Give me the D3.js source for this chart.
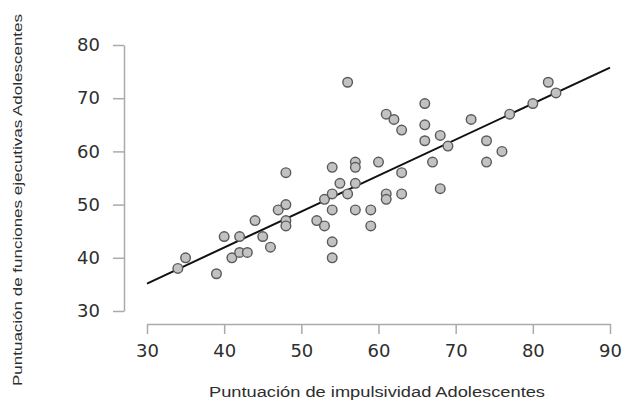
<!DOCTYPE html>
<html>
<head>
<meta charset="utf-8">
<script src="https://cdn.jsdelivr.net/npm/d3@7"></script>
<style>
body { margin: 0; background: #fff; }
svg { display: block; }
.tick text { fill: #2e2e2e; }
</style>
</head>
<body>
<div id="chart"></div>
<script>
// impulsividad (x) vs funciones ejecutivas (y)
var impulsividad = [34, 35, 39, 40, 41, 42, 42, 43, 44, 45, 46, 47, 48, 48, 48, 48,
	52, 53, 53, 54, 54, 54, 54, 54, 55, 56, 56, 57, 57, 57, 57, 59, 59, 60,
	61, 61, 61, 62, 63, 63, 63, 66, 66, 66, 67, 68, 68, 69, 72, 74, 74, 76,
	77, 80, 82, 83];
var funciones = [38, 40, 37, 44, 40, 44, 41, 41, 47, 44, 42, 49, 50, 56, 47, 46,
	47, 51, 46, 57, 52, 49, 43, 40, 54, 73, 52, 58, 57, 54, 49, 49, 46, 58,
	67, 52, 51, 66, 64, 56, 52, 69, 65, 62, 58, 63, 53, 61, 66, 62, 58, 60,
	67, 69, 73, 71];
var xTicks = [30, 40, 50, 60, 70, 80, 90];
var yTicks = [30, 40, 50, 60, 70, 80];

var width = 625, height = 403;

var svg = d3.select("#chart").append("svg")
		.attr("width", width)
		.attr("height", height);

var x = d3.scaleLinear().domain([30, 90]).range([147, 610]);
var y = d3.scaleLinear().domain([30, 80]).range([311, 45]);

var data = impulsividad.map(function(d, i) { return {x: d, y: funciones[i]}; });

// axes
var xAxis = svg.append("g")
		.attr("transform", "translate(0,324)")
		.call(d3.axisBottom(x).tickValues(xTicks).tickSize(10).tickSizeOuter(0).tickPadding(10));
var yAxis = svg.append("g")
		.attr("transform", "translate(124,0)")
		.call(d3.axisLeft(y).tickValues(yTicks).tickSize(11).tickSizeOuter(0).tickPadding(13));

[xAxis, yAxis].forEach(function(a) {
	a.select(".domain").attr("stroke", "#aaa").attr("stroke-width", 1.5);
	a.selectAll(".tick line").attr("stroke", "#aaa").attr("stroke-width", 1.5);
	a.selectAll(".tick text")
			.style("font-family", "DejaVu Sans, sans-serif")
			.style("font-size", "18px");
});
xAxis.selectAll(".tick text").attr("dy", "0.71em");

// least squares fit line
var mx = d3.mean(impulsividad), my = d3.mean(funciones);
var sxy = d3.sum(data, function(d) { return (d.x - mx) * (d.y - my); });
var sxx = d3.sum(data, function(d) { return (d.x - mx) * (d.x - mx); });
var slope = sxy / sxx, intercept = my - slope * mx;
var fit = x.domain().map(function(v) { return {x: v, y: intercept + slope * v}; });

svg.append("path")
		.datum(fit)
		.attr("fill", "none")
		.attr("stroke", "#111")
		.attr("stroke-width", 2)
		.attr("d", d3.line().x(function(d) { return x(d.x); }).y(function(d) { return y(d.y); }));

svg.append("g").selectAll("circle")
		.data(data)
		.enter()
		.append("circle")
		.attr("cx", function(d) { return x(d.x); })
		.attr("cy", function(d) { return y(d.y); })
		.attr("r", 4.8)
		.attr("fill", "#c2c2c2")
		.attr("stroke", "#5a5a5a")
		.attr("stroke-width", 1.4);

// axis titles
svg.append("text")
		.attr("x", 377)
		.attr("y", 397)
		.attr("text-anchor", "middle")
		.attr("textLength", 336)
		.attr("lengthAdjust", "spacingAndGlyphs")
		.style("font-family", "Liberation Sans, Arial, sans-serif")
		.style("font-size", "14px")
		.style("fill", "#2e2e2e")
		.text("Puntuación de impulsividad Adolescentes");

svg.append("text")
		.attr("transform", "translate(22,200) rotate(-90)")
		.attr("text-anchor", "middle")
		.attr("textLength", 372)
		.attr("lengthAdjust", "spacingAndGlyphs")
		.style("font-family", "Liberation Sans, Arial, sans-serif")
		.style("font-size", "13px")
		.style("fill", "#2e2e2e")
		.text("Puntuación de funciones ejecutivas Adolescentes");
</script>
</body>
</html>
